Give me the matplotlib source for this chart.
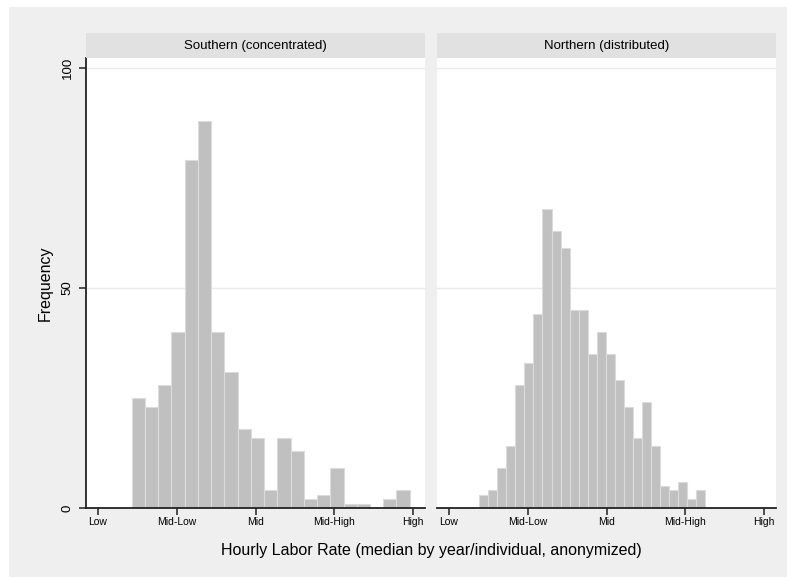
import matplotlib.pyplot as plt
from matplotlib.patches import Rectangle

plt.rcParams['font.family'] = ['Liberation Sans', 'DejaVu Sans']

# histogram bins (in rate-category units, Low=0 ... High=4)
south_start = 0.428
south_width = 0.168
south_counts = [25, 23, 28, 40, 79, 88, 40, 31, 18, 16, 4, 16, 13, 2, 3, 9, 1, 1, 0, 2, 4]

north_start = 0.382
north_width = 0.1149
north_counts = [3, 4, 9, 14, 28, 33, 44, 68, 63, 59, 45, 45, 35, 40, 35, 29, 23, 16, 24,
                14, 5, 4, 6, 2, 4]

panel_titles = ['Southern (concentrated)', 'Northern (distributed)']
tick_labels = ['Low', 'Mid-Low', 'Mid', 'Mid-High', 'High']
y_ticks = [0, 50, 100]

W, H = 787, 577
fig = plt.figure(figsize=(W / 100, H / 100), dpi=100)
fig.patch.set_facecolor('white')
fig.patches.append(Rectangle((9 / W, 0), 1, 1 - 7 / H, transform=fig.transFigure,
                             facecolor='#efefef', edgecolor='none', zorder=-10))

bar_col = '#c0c0c0'
bar_edge = '#dcdcdc'

def fx(px):
    return px / W

def fy(px):
    return 1 - px / H

panels = [(86, 425), (437, 776)]
data = [(south_start, south_width, south_counts), (north_start, north_width, north_counts)]
top_px, bot_px = 58, 508
strip_top = 33

for i, ((x0, x1), (start, width, counts)) in enumerate(zip(panels, data)):
    ax = fig.add_axes([fx(x0), fy(bot_px), fx(x1 - x0), (bot_px - top_px) / H])
    lefts = [start + k * width for k in range(len(counts))]
    ax.bar(lefts, counts, width=width, align='edge', color=bar_col,
           edgecolor=bar_edge, linewidth=0.8, zorder=2)
    ax.set_xlim(-0.152, 4.15)
    ax.set_ylim(0, (bot_px - top_px) / 4.4)
    for g in [50, 100]:
        ax.axhline(g, color='#eaeaea', linewidth=1.0, zorder=1)
    ax.set_facecolor('white')
    for s in ['top', 'right']:
        ax.spines[s].set_visible(False)
    ax.spines['bottom'].set_linewidth(1.3)
    ax.spines['bottom'].set_color('#222222')
    ax.set_xticks(range(5))
    ax.set_xticklabels(tick_labels, fontsize=7.5)
    ax.tick_params(axis='x', length=5, width=1.1, pad=1.5, color='#222222')
    if i == 0:
        ax.spines['left'].set_linewidth(1.3)
        ax.spines['left'].set_color('#222222')
        ax.set_yticks(y_ticks)
        ax.set_yticklabels([str(t) for t in y_ticks], rotation=90, va='center', fontsize=9.5)
        ax.tick_params(axis='y', length=5, width=1.1, pad=4, color='#222222')
        ax.set_ylabel('Frequency', fontsize=11.5, labelpad=6)
    else:
        ax.spines['left'].set_visible(False)
        ax.set_yticks([])

    # panel header strip
    sax = fig.add_axes([fx(x0), fy(top_px), fx(x1 - x0), (top_px - strip_top) / H])
    sax.set_facecolor('#e1e1e1')
    for s in sax.spines.values():
        s.set_visible(False)
    sax.set_xticks([])
    sax.set_yticks([])
    sax.text(0.5, 0.5, panel_titles[i], ha='center', va='center', fontsize=9.5,
             transform=sax.transAxes)

fig.text(fx((86 + 776) / 2), fy(550), 'Hourly Labor Rate (median by year/individual, anonymized)',
         ha='center', va='center', fontsize=11.5)

fig.savefig('out.png', dpi=100, facecolor=fig.get_facecolor())
